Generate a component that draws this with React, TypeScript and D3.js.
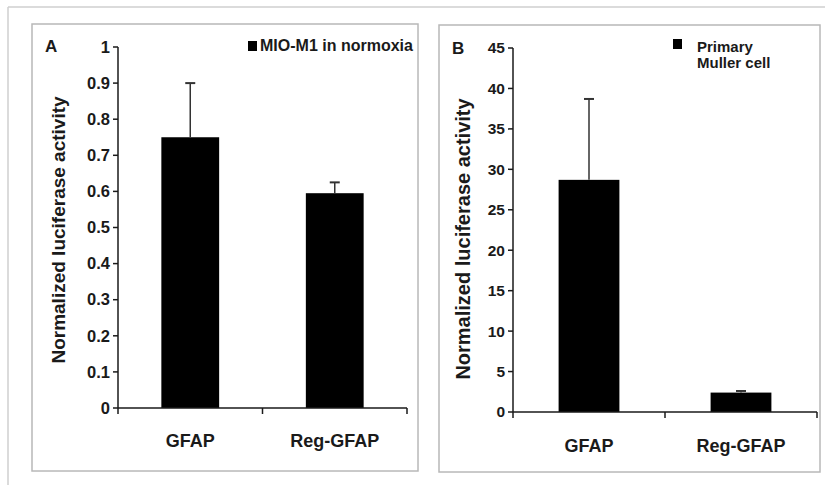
import * as d3 from 'd3';

const categories = ['GFAP', 'Reg-GFAP'];

// panel A: MIO-M1 in normoxia
const mioValues = [0.75, 0.595];
const mioErrors = [0.15, 0.03];
const mioTicks = [0, 0.1, 0.2, 0.3, 0.4, 0.5, 0.6, 0.7, 0.8, 0.9, 1];
const mioTickLabels = ['0', '0.1', '0.2', '0.3', '0.4', '0.5', '0.6', '0.7', '0.8', '0.9', '1'];

// panel B: primary Muller cell
const mullerValues = [28.7, 2.4];
const mullerErrors = [10.0, 0.2];
const mullerTicks = [0, 5, 10, 15, 20, 25, 30, 35, 40, 45];
const mullerTickLabels = ['0', '5', '10', '15', '20', '25', '30', '35', '40', '45'];

const FONT = 'Liberation Sans, Arial, sans-serif';
const INK = '#1a1a1a';

type PanelProps = {
  box: [number, number, number, number];
  axisX: number;
  right: number;
  top: number;
  bottom: number;
  max: number;
  values: number[];
  errors: number[];
  ticks: number[];
  tickLabels: string[];
  tickSize: number;
  letter: string;
  letterPos: [number, number];
  titlePos: [number, number];
  titleSize: number;
  labelY: number;
  legend: { sq: [number, number]; lines: string[]; x: number; y: number; dy: number; size: number };
};

const Panel = (p: PanelProps) => {
  const y = d3.scaleLinear().domain([0, p.max]).range([p.bottom, p.top]);
  const x = d3.scaleBand().domain(categories).range([p.axisX, p.right]).padding(0);
  const barW = x.bandwidth() * 0.4;
  const [bx, by, bw, bh] = p.box;

  return (
    <g>
      <rect x={bx} y={by} width={bw} height={bh} fill="#fff" stroke="#b8b8b8" strokeWidth={1.5} />

      {/* bars */}
      {categories.map((c, i) => {
        const cx = (x(c) as number) + x.bandwidth() / 2;
        return (
          <rect
            key={c}
            x={cx - barW / 2}
            y={y(p.values[i])}
            width={barW}
            height={p.bottom - y(p.values[i])}
            fill="#000"
          />
        );
      })}

      {/* error bars */}
      {categories.map((c, i) => {
        const cx = (x(c) as number) + x.bandwidth() / 2;
        const yt = y(p.values[i] + p.errors[i]);
        return (
          <g key={c} stroke="#333" strokeWidth={1.5}>
            <line x1={cx} x2={cx} y1={y(p.values[i])} y2={yt} />
            <line x1={cx - 5} x2={cx + 5} y1={yt} y2={yt} strokeWidth={2} />
          </g>
        );
      })}

      {/* y axis */}
      <line x1={p.axisX} x2={p.axisX} y1={p.top} y2={p.bottom} stroke={INK} strokeWidth={1.5} />
      {p.ticks.map((t, i) => (
        <g key={t}>
          <line x1={p.axisX - 5} x2={p.axisX} y1={y(t)} y2={y(t)} stroke={INK} strokeWidth={1.5} />
          <text
            x={p.axisX - 8}
            y={y(t)}
            dy="0.35em"
            textAnchor="end"
            fontSize={p.tickSize}
            fontWeight="bold"
            fill={INK}
          >
            {p.tickLabels[i]}
          </text>
        </g>
      ))}

      {/* x axis */}
      <line x1={p.axisX} x2={p.right} y1={p.bottom} y2={p.bottom} stroke={INK} strokeWidth={1.5} />
      {[...categories.map((c) => x(c) as number), p.right].map((tx, i) => (
        <line key={i} x1={tx} x2={tx} y1={p.bottom} y2={p.bottom + 6} stroke={INK} strokeWidth={1.5} />
      ))}
      {categories.map((c) => (
        <text
          key={c}
          x={(x(c) as number) + x.bandwidth() / 2}
          y={p.labelY}
          textAnchor="middle"
          fontSize={18}
          fontWeight="bold"
          fill={INK}
        >
          {c}
        </text>
      ))}

      {/* y title */}
      <text
        transform={`translate(${p.titlePos[0]},${p.titlePos[1]}) rotate(-90)`}
        textAnchor="middle"
        dy="0.35em"
        fontSize={p.titleSize}
        fontWeight="bold"
        fill={INK}
      >
        Normalized luciferase activity
      </text>

      {/* panel letter */}
      <text x={p.letterPos[0]} y={p.letterPos[1]} fontSize={17} fontWeight="bold" fill={INK}>
        {p.letter}
      </text>

      {/* legend */}
      <rect x={p.legend.sq[0]} y={p.legend.sq[1]} width={9} height={10} fill="#000" />
      {p.legend.lines.map((l, i) => (
        <text
          key={l}
          x={p.legend.x}
          y={p.legend.y + i * p.legend.dy}
          fontSize={p.legend.size}
          fontWeight="bold"
          fill={INK}
        >
          {l}
        </text>
      ))}
    </g>
  );
};

export default function App() {
  return (
    <svg
      width={825}
      height={485}
      style={{ position: 'absolute', left: 0, top: 0, fontFamily: FONT, background: '#fff' }}
    >
      <rect width={825} height={485} fill="#fff" />
      <line x1={8} x2={825} y1={7} y2={7} stroke="#cfcfcf" strokeWidth={1.5} />
      <line x1={8} x2={8} y1={7} y2={485} stroke="#cfcfcf" strokeWidth={1.5} />

      <Panel
        box={[32, 24, 386, 447]}
        axisX={118}
        right={407}
        top={47}
        bottom={408}
        max={1}
        values={mioValues}
        errors={mioErrors}
        ticks={mioTicks}
        tickLabels={mioTickLabels}
        tickSize={16.5}
        letter="A"
        letterPos={[45, 52]}
        titlePos={[58, 230]}
        titleSize={19}
        labelY={447}
        legend={{ sq: [248, 41], lines: ['MIO-M1 in normoxia'], x: 260, y: 51, dy: 0, size: 16 }}
      />

      <Panel
        box={[439, 25, 381, 447]}
        axisX={513}
        right={817}
        top={48}
        bottom={412}
        max={45}
        values={mullerValues}
        errors={mullerErrors}
        ticks={mullerTicks}
        tickLabels={mullerTickLabels}
        tickSize={15.5}
        letter="B"
        letterPos={[452, 54]}
        titlePos={[463, 239]}
        titleSize={20}
        labelY={452}
        legend={{ sq: [673, 39], lines: ['Primary', 'Muller cell'], x: 697, y: 52, dy: 16, size: 15 }}
      />
    </svg>
  );
}
